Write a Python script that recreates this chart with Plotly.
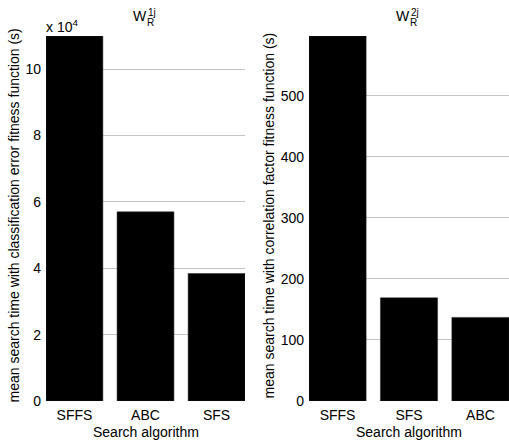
import plotly.graph_objects as go

W, H = 509, 445

# Data
algos_left = ["SFFS", "ABC", "SFS"]
time_left = [110000, 57000, 38400]          # seconds (classification error fitness)
algos_right = ["SFFS", "SFS", "ABC"]
time_right = [598, 169, 137]                 # seconds (correlation factor fitness)
left_ticks = [0, 20000, 40000, 60000, 80000, 100000]
left_ticktext = ["0", "2", "4", "6", "8", "10"]
right_ticks = [0, 100, 200, 300, 400, 500]

FONT = "Liberation Sans, Arial, sans-serif"
FS = 14
GRID = "#c4c4c4"

def px(x):
    return x / W

def py(y):
    return 1 - y / H

fig = go.Figure()
fig.add_trace(go.Bar(x=algos_left, y=time_left, xaxis="x", yaxis="y",
                     marker=dict(color="black", line=dict(color="#222", width=0.5)),
                     width=0.8, showlegend=False))
fig.add_trace(go.Bar(x=algos_right, y=time_right, xaxis="x2", yaxis="y2",
                     marker=dict(color="black", line=dict(color="#222", width=0.5)),
                     width=0.8, showlegend=False))

ydom = [py(401), py(36)]
common_x = dict(range=[-0.4, 2.4], showgrid=False, ticks="", zeroline=False,
                showline=False, ticklabelstandoff=4,
                tickfont=dict(family=FONT, size=FS, color="black"))
common_y = dict(showgrid=True, gridcolor=GRID, gridwidth=1, zeroline=False,
                showline=False, ticks="", ticklabelstandoff=4,
                tickfont=dict(family=FONT, size=FS, color="black"),
                domain=ydom)

fig.update_layout(
    autosize=False,
    width=W, height=H,
    margin=dict(l=0, r=0, t=0, b=0, autoexpand=False),
    paper_bgcolor="white", plot_bgcolor="white",
    font=dict(family=FONT, size=FS, color="black"),
    xaxis=dict(domain=[px(46), px(245)], anchor="y", **common_x),
    yaxis=dict(anchor="x", range=[0, 110000], tickvals=left_ticks,
               ticktext=left_ticktext, **common_y),
    xaxis2=dict(domain=[px(309), 1.0], anchor="y2", **common_x),
    yaxis2=dict(anchor="x2", range=[0, 598], tickvals=right_ticks, **common_y),
    bargap=0.2,
)

ann = []
def add(text, x, y, size=FS, angle=0, xanchor="center", yanchor="middle"):
    ann.append(dict(text=text, x=px(x), y=py(y), xref="paper", yref="paper",
                    showarrow=False, xanchor=xanchor, yanchor=yanchor,
                    textangle=angle, font=dict(family=FONT, size=size, color="black")))

# titles
add("W", 140, 16)
add("1j", 151.5, 12.5, size=10)
add("R", 150.5, 22.5, size=10)
add("W", 403, 16)
add("2j", 414.5, 12.5, size=10)
add("R", 413.5, 22.5, size=10)
# exponent label
add("x 10<sup>4</sup>", 44, 26.5, xanchor="left")
# axis titles
add("Search algorithm", 145.5, 432)
add("Search algorithm", 408.5, 432)
add("mean search time with classification error fitness function (s)", 13, 215.5, angle=-90)
add("mean search time with correlation factor fitness function (s)", 268.5, 216, angle=-90)

fig.update_layout(annotations=ann)
fig.write_html("out.html", config={"responsive": False})
